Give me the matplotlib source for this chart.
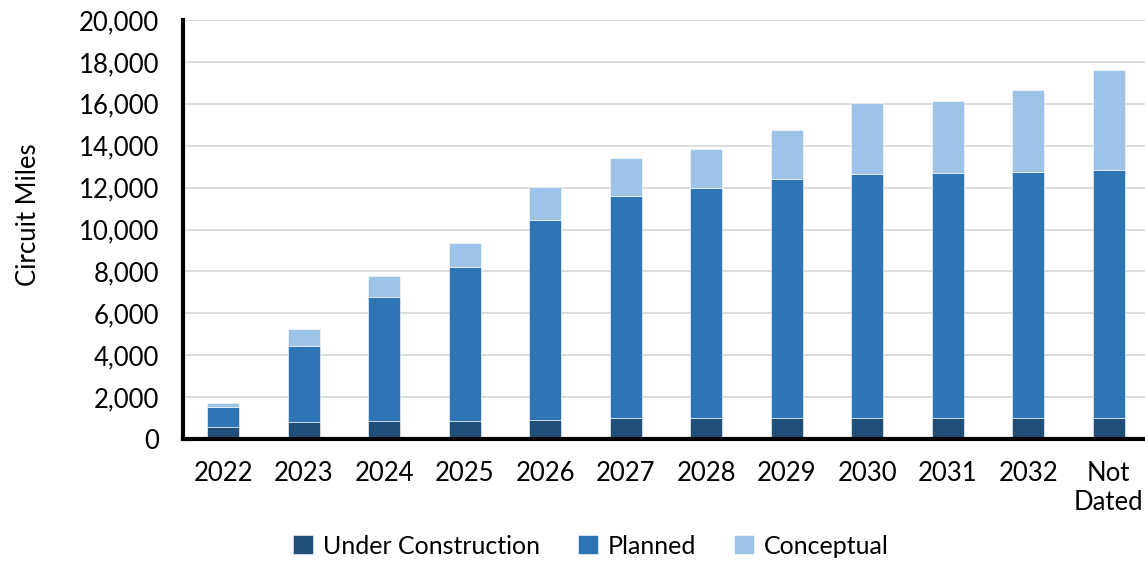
import matplotlib.pyplot as plt
import numpy as np
from matplotlib.ticker import FuncFormatter

plt.rcParams["font.family"] = ["Lato", "DejaVu Sans"]

categories = ["2022", "2023", "2024", "2025", "2026", "2027", "2028",
              "2029", "2030", "2031", "2032", "Not\nDated"]
under_construction = [550, 800, 850, 850, 920, 1000, 1000, 1000, 1000, 1000, 1000, 1000]
planned_top = [1550, 4450, 6790, 8200, 10460, 11600, 11990, 12410, 12650, 12710, 12760, 12840]
totals = [1700, 5250, 7780, 9350, 12050, 13420, 13850, 14770, 16050, 16110, 16650, 17630]

planned = [p - u for p, u in zip(planned_top, under_construction)]
conceptual = [t - p for t, p in zip(totals, planned_top)]

colors = ["#1F4E79", "#2E75B6", "#9DC3E6"]

fig = plt.figure(figsize=(11.45, 5.61), dpi=100)
ax = fig.add_axes([183 / 1145, 1 - 439 / 561, 1 - 183 / 1145, 419 / 561])

x = np.arange(len(categories))
w = 0.4
b1 = ax.bar(x, under_construction, w, color=colors[0], edgecolor="white", linewidth=0.4,
            label="Under Construction", zorder=3)
b2 = ax.bar(x, planned, w, bottom=under_construction, color=colors[1], edgecolor="white",
            linewidth=0.4, label="Planned", zorder=3)
b3 = ax.bar(x, conceptual, w, bottom=planned_top, color=colors[2], edgecolor="white",
            linewidth=0.4, label="Conceptual", zorder=3)

ax.set_xlim(-0.5, 11.45)
ax.set_ylim(0, 20000)
ax.set_yticks(range(0, 20001, 2000))
ax.yaxis.set_major_formatter(FuncFormatter(lambda v, p: f"{int(v):,}"))
ax.set_xticks(x)
ax.set_xticklabels(categories)
ax.tick_params(axis="both", length=0, labelsize=18.5)
ax.tick_params(axis="x", pad=16)
ax.tick_params(axis="y", pad=17)
ax.grid(axis="y", color="#d9d9d9", linewidth=1.3, zorder=0)

for s in ["top", "right"]:
    ax.spines[s].set_visible(False)
for s in ["left", "bottom"]:
    ax.spines[s].set_linewidth(3)
    ax.spines[s].set_color("black")
    ax.spines[s].set_zorder(4)

ax.set_ylabel("Circuit Miles", fontsize=18.5)
ax.yaxis.set_label_coords(-0.148, 0.535)

fig.legend(handles=[b1, b2, b3], loc="center", bbox_to_anchor=(591 / 1145, 1 - 546 / 561),
           ncol=3, frameon=False, fontsize=18, handlelength=0.8, handleheight=0.8,
           handletextpad=0.4, columnspacing=1.5)

fig.savefig("out.png", dpi=100)
